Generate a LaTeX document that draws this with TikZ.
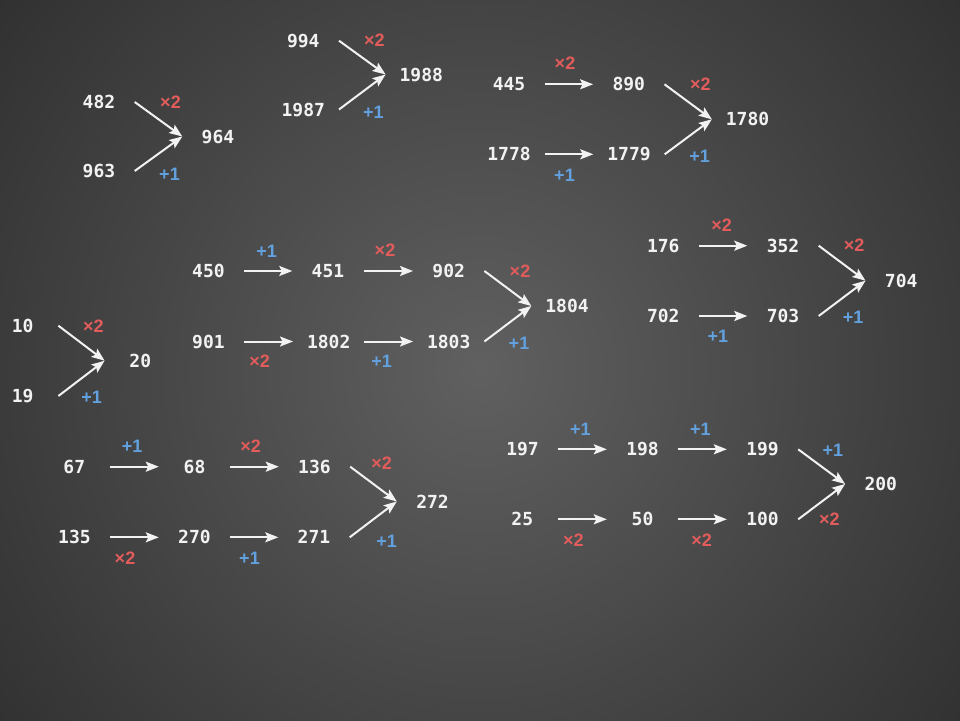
\documentclass[tikz,border=0pt]{standalone}
\usepackage{fontspec}
\setmonofont{DejaVu Sans Mono}
\newfontfamily\labfont{Liberation Sans}
\usetikzlibrary{arrows.meta}
\definecolor{bgin}{RGB}{96,96,96}
\definecolor{bgout}{RGB}{28,28,28}
\definecolor{numc}{RGB}{242,242,242}
\definecolor{redl}{RGB}{226,92,92}
\definecolor{bluel}{RGB}{98,160,222}
\pgfdeclareradialshading{bgshade}{\pgfpoint{0bp}{0bp}}{color(0bp)=(bgin); color(35.4bp)=(bgout); color(50bp)=(bgout)}
\tikzset{
  num/.style={font=\ttfamily\bfseries\fontsize{18}{18}\selectfont, text=numc, minimum width=71pt, inner sep=0pt},
  mul/.style={font=\labfont\bfseries\fontsize{18}{18}\selectfont, text=redl, inner sep=0pt},
  inc/.style={font=\labfont\bfseries\fontsize{18}{18}\selectfont, text=bluel, inner sep=0pt},
  arr/.style={draw=numc, line width=2pt, -{Stealth[length=13pt,width=10pt,inset=2.5pt]}}
}
\begin{document}
\begin{tikzpicture}[x=1pt,y=-1pt]
\useasboundingbox (0,0) rectangle (960,720);
\begin{scope}
\clip (0,0) rectangle (960,720);
\shade[shading=bgshade] (480,370) circle (620pt);
\end{scope}

% Group 1
\node[num] (n482) at (99,102) {482};
\node[num] (n963) at (99,171) {963};
\node[num] (n964) at (218,136.5) {964};
\draw[arr] (n482.east) -- (n964.west);
\draw[arr] (n963.east) -- (n964.west);
\node[mul] (l1a) at (170.5,102) {×2};
\node[inc] (l1b) at (169.5,174) {+1};

% Group 2
\node[num] (n994) at (303.3,40.7) {994};
\node[num] (n1987) at (303.3,109.5) {1987};
\node[num] (n1988) at (421.3,74.5) {1988};
\draw[arr] (n994.east) -- (n1988.west);
\draw[arr] (n1987.east) -- (n1988.west);
\node[mul] (l2a) at (374.3,40.7) {×2};
\node[inc] (l2b) at (373.3,112) {+1};

% Group 3
\node[num] (n445) at (509,84.3) {445};
\node[num] (n890) at (628.8,84.3) {890};
\node[num] (n1780) at (747.5,119.3) {1780};
\node[num] (n1778) at (509,154.3) {1778};
\node[num] (n1779) at (629,154.3) {1779};
\draw[arr] (n445.east) -- (n890.west);
\draw[arr] (n1778.east) -- (n1779.west);
\draw[arr] (n890.east) -- (n1780.west);
\draw[arr] (n1779.east) -- (n1780.west);
\node[mul] (l3a) at (565,63.3) {×2};
\node[inc] (l3b) at (564.5,175) {+1};
\node[mul] (l3c) at (700.3,84.3) {×2};
\node[inc] (l3d) at (699.7,156) {+1};

% Group 4
\node[num] (n450) at (208.5,271) {450};
\node[num] (n451) at (328,271) {451};
\node[num] (n902) at (448.7,271) {902};
\node[num] (n1804) at (567,306) {1804};
\node[num] (n901) at (208.5,341.5) {901};
\node[num] (n1802) at (328.7,341.5) {1802};
\node[num] (n1803) at (448.7,341.5) {1803};
\draw[arr] (n450.east) -- (n451.west);
\draw[arr] (n451.east) -- (n902.west);
\draw[arr] (n902.east) -- (n1804.west);
\draw[arr] (n901.east) -- (n1802.west);
\draw[arr] (n1802.east) -- (n1803.west);
\draw[arr] (n1803.east) -- (n1804.west);
\node[inc] (l4a) at (266.7,251) {+1};
\node[mul] (l4b) at (385,250) {×2};
\node[mul] (l4c) at (520,271.7) {×2};
\node[mul] (l4d) at (259.7,361.7) {×2};
\node[inc] (l4e) at (381.7,361.7) {+1};
\node[inc] (l4f) at (519,343.3) {+1};

% Group 5
\node[num] (n176) at (663.3,245.7) {176};
\node[num] (n352) at (783,245.7) {352};
\node[num] (n704) at (901.2,280.7) {704};
\node[num] (n702) at (663.3,316) {702};
\node[num] (n703) at (783,316) {703};
\draw[arr] (n176.east) -- (n352.west);
\draw[arr] (n702.east) -- (n703.west);
\draw[arr] (n352.east) -- (n704.west);
\draw[arr] (n703.east) -- (n704.west);
\node[mul] (l5a) at (721.7,225) {×2};
\node[inc] (l5b) at (717.8,336.5) {+1};
\node[mul] (l5c) at (854.2,245.7) {×2};
\node[inc] (l5d) at (853,317.3) {+1};

% Group 6
\node[num] (n10) at (22.7,325.7) {10};
\node[num] (n19) at (22.7,396) {19};
\node[num] (n20) at (140.3,360.7) {20};
\draw[arr] (n10.east) -- (n20.west);
\draw[arr] (n19.east) -- (n20.west);
\node[mul] (l6a) at (93.3,326.7) {×2};
\node[inc] (l6b) at (91.7,397.3) {+1};

% Group 7
\node[num] (n67) at (74.3,466.7) {67};
\node[num] (n68) at (194.5,466.7) {68};
\node[num] (n136) at (314.5,466.7) {136};
\node[num] (n272) at (432.5,501.5) {272};
\node[num] (n135) at (74.5,537.3) {135};
\node[num] (n270) at (194.5,537.3) {270};
\node[num] (n271) at (314,537.3) {271};
\draw[arr] (n67.east) -- (n68.west);
\draw[arr] (n68.east) -- (n136.west);
\draw[arr] (n136.east) -- (n272.west);
\draw[arr] (n135.east) -- (n270.west);
\draw[arr] (n270.east) -- (n271.west);
\draw[arr] (n271.east) -- (n272.west);
\node[inc] (l7a) at (132.2,446) {+1};
\node[mul] (l7b) at (250.7,446) {×2};
\node[mul] (l7c) at (381.7,463.3) {×2};
\node[mul] (l7d) at (125,558.3) {×2};
\node[inc] (l7e) at (249.5,558) {+1};
\node[inc] (l7f) at (386.7,541) {+1};

% Group 8
\node[num] (n197) at (522.5,449.3) {197};
\node[num] (n198) at (642.5,449.3) {198};
\node[num] (n199) at (762.5,449.3) {199};
\node[num] (n200) at (880.8,484) {200};
\node[num] (n25) at (522.3,519.3) {25};
\node[num] (n50) at (642.5,519.3) {50};
\node[num] (n100) at (762.5,519.3) {100};
\draw[arr] (n197.east) -- (n198.west);
\draw[arr] (n198.east) -- (n199.west);
\draw[arr] (n199.east) -- (n200.west);
\draw[arr] (n25.east) -- (n50.west);
\draw[arr] (n50.east) -- (n100.west);
\draw[arr] (n100.east) -- (n200.west);
\node[inc] (l8a) at (580.3,429) {+1};
\node[inc] (l8b) at (700.3,429) {+1};
\node[inc] (l8c) at (832.8,450) {+1};
\node[mul] (l8d) at (573.3,540.7) {×2};
\node[mul] (l8e) at (701.7,540.7) {×2};
\node[mul] (l8f) at (829.3,519.3) {×2};
\end{tikzpicture}
\end{document}
